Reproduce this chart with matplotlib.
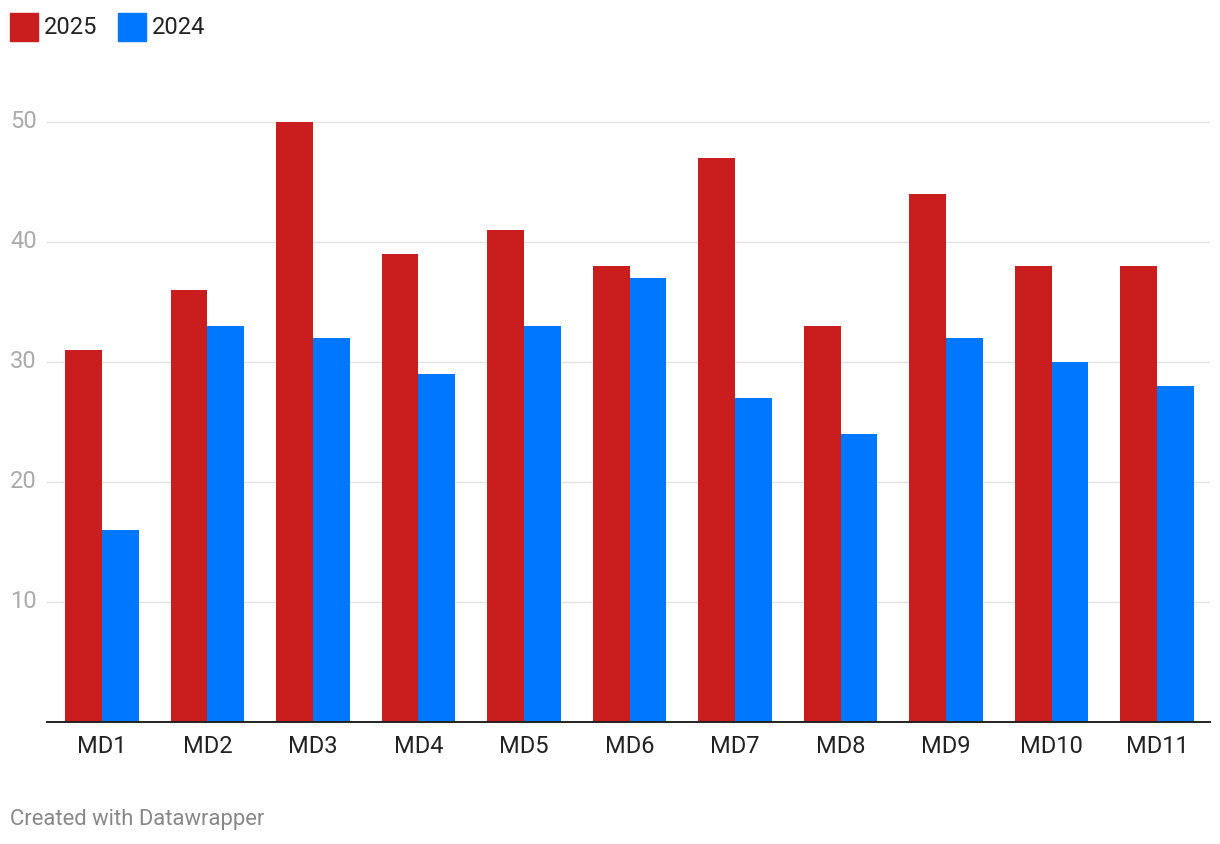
import numpy as np
import matplotlib
matplotlib.use("Agg")
import matplotlib.pyplot as plt
from matplotlib.patches import Rectangle
import matplotlib.transforms as mtrans

plt.rcParams['font.family'] = ['Roboto', 'DejaVu Sans']

# data
districts = ["MD1", "MD2", "MD3", "MD4", "MD5", "MD6", "MD7", "MD8", "MD9", "MD10", "MD11"]
vals_2025 = [31, 36, 50, 39, 41, 38, 47, 33, 44, 38, 38]
vals_2024 = [16, 33, 32, 29, 33, 37, 27, 24, 32, 30, 28]
series_names = ["2025", "2024"]
series_colors = ["#c91d1e", "#0077ff"]
yticks = [10, 20, 30, 40, 50]

W, H = 1220, 844
fig = plt.figure(figsize=(W / 100, H / 100), dpi=100)

# axes placement in pixels
left, right, base, ymax = 47, 1210, 722, 52
top = base - ymax * 12
ax = fig.add_axes([left / W, (H - base) / H, (right - left) / W, (base - top) / H])

x = np.arange(len(districts))
bw = 0.35
ax.bar(x - bw / 2, vals_2025, bw, color=series_colors[0], zorder=3)
ax.bar(x + bw / 2, vals_2024, bw, color=series_colors[1], zorder=3)

ax.set_xlim(-0.521, 10.502)
ax.set_ylim(0, ymax)

for s in ["top", "right", "left"]:
    ax.spines[s].set_visible(False)
ax.spines["bottom"].set_color("#222222")
ax.spines["bottom"].set_linewidth(1.4)
ax.spines["bottom"].set_zorder(4)

ax.set_yticks(yticks)
ax.set_yticklabels([])
ax.tick_params(axis="y", length=0)
ax.grid(axis="y", color="#e2e2e2", linewidth=1, zorder=0)

ax.set_xticks(x)
ax.set_xticklabels(districts, fontsize=17, color="#222222")
ax.tick_params(axis="x", length=0, pad=9.5)

# y tick labels at the left edge of the figure
tr = mtrans.blended_transform_factory(fig.transFigure, ax.transData)
for v in yticks:
    ax.text(10 / W, v, str(v), transform=tr, ha="left", va="center",
            fontsize=17, color="#aaaaaa")

# legend
lx = [10, 118]
for name, col, px in zip(series_names, series_colors, lx):
    fig.patches.append(Rectangle((px / W, (H - 41) / H), 28 / W, 28 / H,
                                 transform=fig.transFigure, color=col))
    fig.text((px + 34) / W, (H - 27) / H, name, ha="left", va="center",
             fontsize=17, color="#222222")

fig.text(10 / W, (H - 819) / H, "Created with Datawrapper", ha="left", va="center",
         fontsize=15.8, color="#888888")

fig.savefig("out.png", dpi=100)
